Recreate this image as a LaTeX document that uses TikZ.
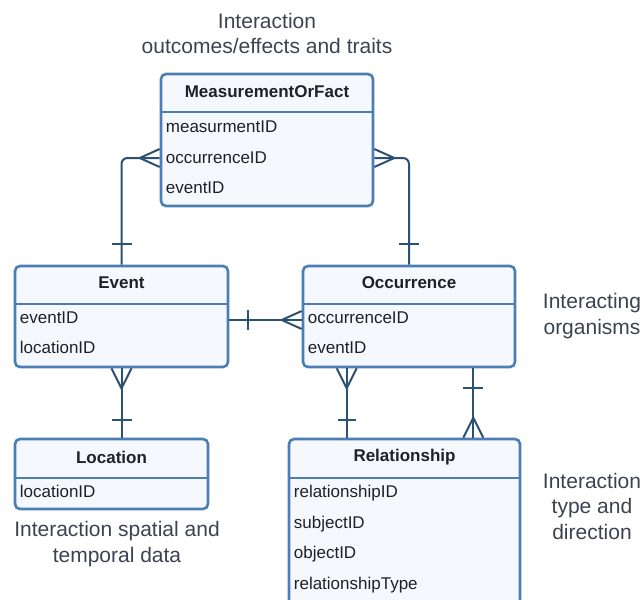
\documentclass[tikz,border=0pt]{standalone}
\usepackage{fontspec}
\setmainfont{Liberation Sans}
\usetikzlibrary{positioning,calc}

\definecolor{entborder}{HTML}{4A7EB4}
\definecolor{entfill}{HTML}{F5F9FE}
\definecolor{enttext}{HTML}{1E2226}
\definecolor{connline}{HTML}{2D5173}
\definecolor{notetext}{HTML}{3C4350}

\tikzset{
  entity/.style={draw=entborder, line width=2.6pt, fill=entfill, rounded corners=5pt, inner sep=0pt},
  divider/.style={draw=entborder, line width=2.6pt},
  etitle/.style={font=\fontsize{17}{20}\selectfont\bfseries, text=enttext},
  field/.style={font=\fontsize{17}{20}\selectfont, text=enttext, inner xsep=6pt, inner ysep=0pt, text height=12pt, text depth=4pt, anchor=west},
  conn/.style={draw=connline, line width=2pt},
  note/.style={font=\fontsize{21}{25.5}\selectfont, text=notetext, align=center},
}

\begin{document}
\begin{tikzpicture}[x=1pt, y=-1pt]
  \useasboundingbox (0,0) rectangle (644,599);
  \clip (0,0) rectangle (644,599);

  % Nodes
  \node[entity, minimum width=212pt, minimum height=132pt] (mof) at (267,140) {};
  \draw[divider] (mof.west |- 0,112) -- (mof.east |- 0,112);
  \node[etitle] (moft) at (mof.north |- 0,92) {MeasurementOrFact};
  \node[field] (mof1) at (mof.west |- 0,128.5) {measurmentID};
  \node[field, below=30.5pt of mof1.west, anchor=west] (mof2) {occurrenceID};
  \node[field, below=30.5pt of mof2.west, anchor=west] (mof3) {eventID};

  \node[entity, minimum width=213pt, minimum height=101pt] (ev) at (121.5,316.5) {};
  \draw[divider] (ev.west |- 0,304) -- (ev.east |- 0,304);
  \node[etitle] (evt) at (ev.north |- 0,283) {Event};
  \node[field] (ev1) at (ev.west |- 0,319.5) {eventID};
  \node[field, below=30pt of ev1.west, anchor=west] (ev2) {locationID};

  \node[entity, minimum width=212pt, minimum height=101pt] (occ) at (409,316.5) {};
  \draw[divider] (occ.west |- 0,304) -- (occ.east |- 0,304);
  \node[etitle] (occt) at (occ.north |- 0,283) {Occurrence};
  \node[field] (occ1) at (occ.west |- 0,319.5) {occurrenceID};
  \node[field, below=30pt of occ1.west, anchor=west] (occ2) {eventID};

  \node[entity, minimum width=193pt, minimum height=70pt] (loc) at (111.5,474) {};
  \draw[divider] (loc.west |- 0,478) -- (loc.east |- 0,478);
  \node[etitle] (loct) at (loc.north |- 0,457) {Location};
  \node[field] (loc1) at (loc.west |- 0,493.5) {locationID};

  \node[entity, minimum width=231pt, minimum height=180pt] (rel) at (404.5,529) {};
  \draw[divider] (rel.west |- 0,478) -- (rel.east |- 0,478);
  \node[etitle] (relt) at (rel.north |- 0,457) {Relationship};
  \node[field] (rel1) at (rel.west |- 0,493.5) {relationshipID};
  \node[field, below=30.7pt of rel1.west, anchor=west] (rel2) {subjectID};
  \node[field, below=30.7pt of rel2.west, anchor=west] (rel3) {objectID};
  \node[field, below=30.7pt of rel3.west, anchor=west] (rel4) {relationshipType};

  \node[note] (ntop) at (267,33.5) {Interaction\\outcomes/effects and traits};
  \node[note] (norg) at (592,316) {Interacting\\organisms};
  \node[note] (nrel) at (592,506) {Interaction\\type and\\direction};
  \node[note] (nloc) at (117,544) {Interaction spatial and\\temporal data};

  % Arrows
  \draw[conn, rounded corners=6pt] (mof.west |- 0,158) -| (ev.north);
  \draw[conn] ($(mof.west |- 0,158)+(0,-9)$) -- ++(-20,9) -- ++(20,9);
  \draw[conn] ($(ev.north)+(-10,-21)$) -- ++(20,0);

  \draw[conn, rounded corners=6pt] (mof.east |- 0,158) -| (occ.north);
  \draw[conn] ($(mof.east |- 0,158)+(0,-9)$) -- ++(20,9) -- ++(-20,9);
  \draw[conn] ($(occ.north)+(-10,-21)$) -- ++(20,0);

  \draw[conn] (ev.east |- 0,320) -- (occ.west |- 0,320);
  \draw[conn] ($(ev.east |- 0,320)+(19,-10)$) -- ++(0,20);
  \draw[conn] ($(occ.west |- 0,320)+(0,-9)$) -- ++(-20,9) -- ++(20,9);

  \draw[conn] (ev.south) -- (ev.south |- loc.north);
  \draw[conn] ($(ev.south)+(-10,0)$) -- ++(10,20) -- ++(10,-20);
  \draw[conn] ($(ev.south)+(-10,52)$) -- ++(20,0);

  \coordinate (oa) at ($(occ.south west)+(45,0)$);
  \coordinate (ob) at ($(occ.south east)+(-43,0)$);
  \draw[conn] (oa) -- (oa |- rel.north);
  \draw[conn] ($(oa)+(-10,0)$) -- ++(10,20) -- ++(10,-20);
  \draw[conn] ($(oa)+(-9,52)$) -- ++(18,0);
  \draw[conn] (ob) -- (ob |- rel.north);
  \draw[conn] ($(ob)+(-10,20)$) -- ++(20,0);
  \draw[conn] ($(ob |- rel.north)+(-10,0)$) -- ++(10,-20) -- ++(10,20);
\end{tikzpicture}
\end{document}
